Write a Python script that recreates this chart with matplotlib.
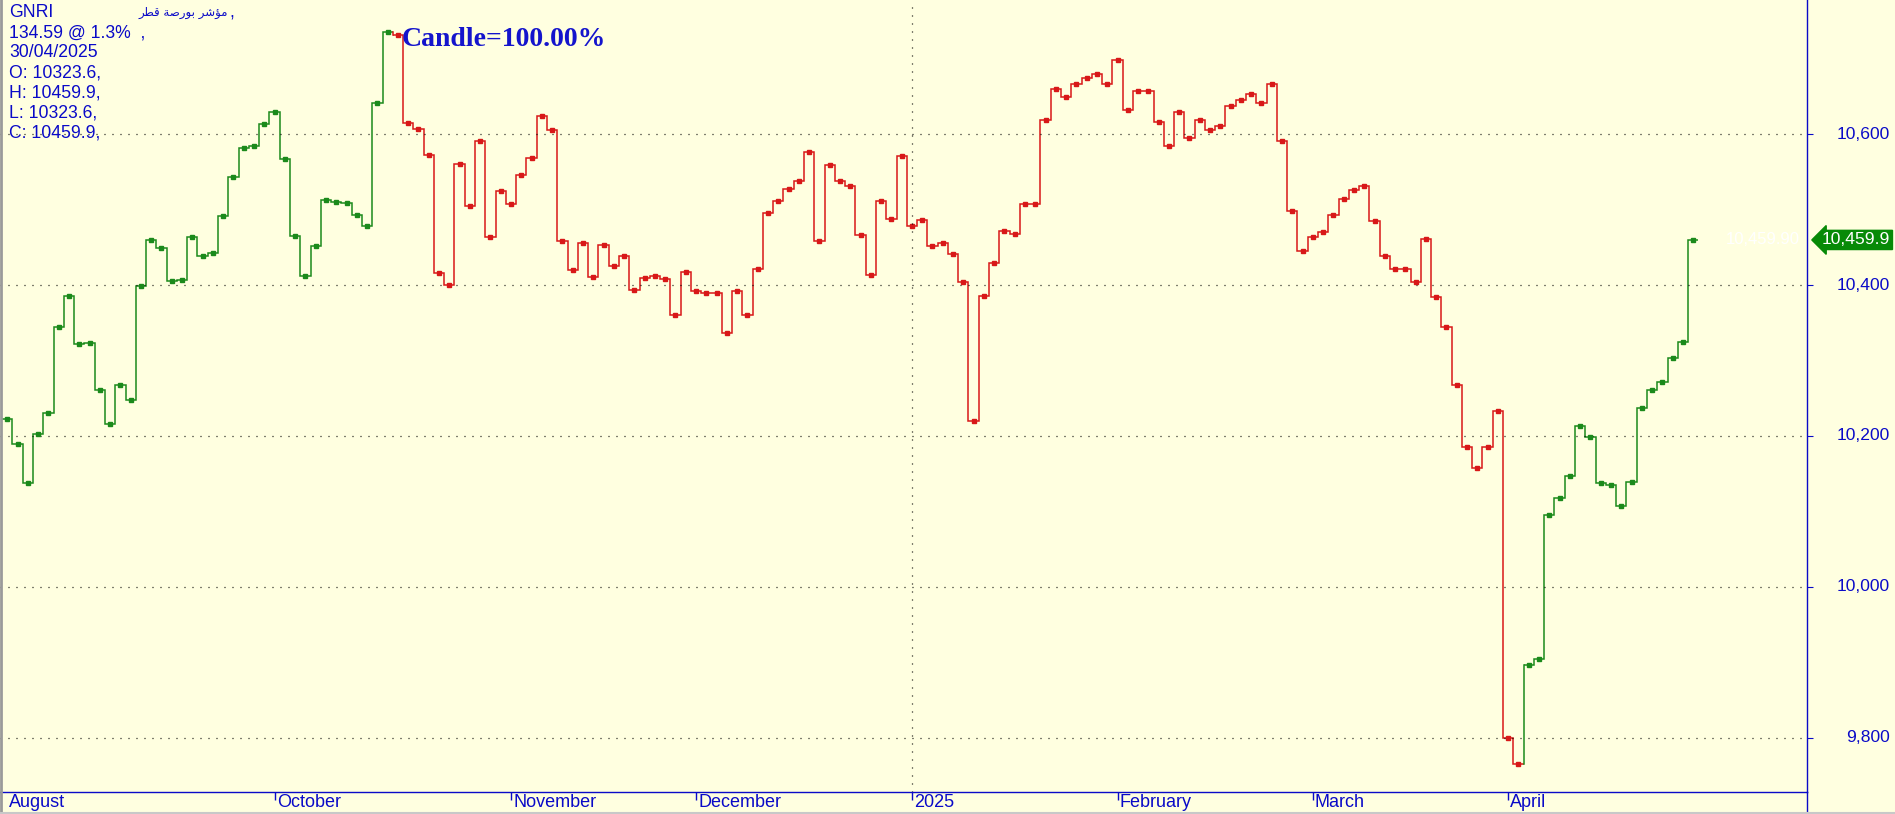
import numpy as np
import matplotlib.pyplot as plt
from matplotlib import transforms
from matplotlib.lines import Line2D

# GNRI (QE index) daily closes, mid August 2024 -> 30/04/2025
closes = [
    10223, 10189, 10138, 10202, 10230, 10344, 10385, 10322, 10323, 10261,
    10216, 10268, 10248, 10399, 10460, 10449, 10405, 10407, 10464, 10438,
    10442, 10491, 10544, 10582, 10585, 10613, 10629, 10567, 10465, 10412,
    10452, 10513, 10510, 10509, 10493, 10478, 10642, 10735, 10732, 10615,
    10607, 10573, 10416, 10400, 10560, 10505, 10591, 10464, 10525, 10507,
    10546, 10569, 10624, 10606, 10459, 10420, 10456, 10411, 10453, 10425,
    10438, 10394, 10409, 10412, 10408, 10361, 10417, 10392, 10390, 10389,
    10337, 10392, 10361, 10421, 10496, 10511, 10528, 10538, 10577, 10458,
    10559, 10538, 10531, 10466, 10413, 10511, 10487, 10571, 10478, 10486,
    10452, 10456, 10441, 10404, 10220, 10385, 10429, 10472, 10468, 10507,
    10507, 10619, 10660, 10650, 10667, 10674, 10680, 10667, 10699, 10632,
    10658, 10657, 10616, 10584, 10629, 10595, 10619, 10606, 10611, 10638,
    10646, 10654, 10641, 10666, 10591, 10498, 10445, 10464, 10471, 10493,
    10514, 10526, 10531, 10485, 10438, 10422, 10421, 10404, 10461, 10384,
    10344, 10268, 10185, 10158, 10185, 10233, 9800, 9765, 9896, 9904,
    10095, 10118, 10147, 10213, 10199, 10137, 10135, 10107, 10139, 10237,
    10261, 10271, 10304, 10324, 10459.9,
]

# colour runs of the line (first index, last index, trend)
runs = [(0, 37, "up"), (38, 147, "down"), (148, 164, "up")]

month_labels = ["August", "October", "November", "December", "2025",
                "February", "March", "April"]
month_idx = [0, 26, 49, 67, 88, 108, 127, 146]
year_idx = 88

ytick_vals = [9800, 10000, 10200, 10400, 10600]

info_lines = ["GNRI", "134.59 @ 1.3%  ,", "30/04/2025", "O: 10323.6,",
              "H: 10459.9,", "L: 10323.6,", "C: 10459.9,"]
name_ar = "مؤشر بورصة قطر"
last_price = closes[-1]

BG = "#FFFFE0"
BLUE = "#0A0AC8"
COLORS = {"up": "#1B8A1B", "down": "#D81818"}

# no arabic shaping / bidi in matplotlib: pick the presentation forms by hand
# and lay them out right to left
AR_FORMS = {
    # letter: (isolated, final, initial, medial)
    "م": ("\ufee1", "\ufee2", "\ufee3", "\ufee4"),
    "ؤ": ("\ufe85", "\ufe86", None, None),
    "ش": ("\ufeb5", "\ufeb6", "\ufeb7", "\ufeb8"),
    "ر": ("\ufead", "\ufeae", None, None),
    "ب": ("\ufe8f", "\ufe90", "\ufe91", "\ufe92"),
    "و": ("\ufeed", "\ufeee", None, None),
    "ص": ("\ufeb9", "\ufeba", "\ufebb", "\ufebc"),
    "ة": ("\ufe93", "\ufe94", None, None),
    "ق": ("\ufed5", "\ufed6", "\ufed7", "\ufed8"),
    "ط": ("\ufec1", "\ufec2", "\ufec3", "\ufec4"),
}


def shape_ar(text):
    out = []
    for i, ch in enumerate(text):
        if ch not in AR_FORMS:
            out.append(ch)
            continue
        prev = text[i - 1] if i > 0 else " "
        nxt = text[i + 1] if i + 1 < len(text) else " "
        joins_prev = prev in AR_FORMS and AR_FORMS[prev][2] is not None
        joins_next = AR_FORMS[ch][2] is not None and nxt in AR_FORMS
        iso, fin, ini, med = AR_FORMS[ch]
        if joins_prev and joins_next:
            out.append(med)
        elif joins_prev:
            out.append(fin)
        elif joins_next:
            out.append(ini)
        else:
            out.append(iso)
    return "".join(reversed(out))


plt.rcParams["font.family"] = ["Liberation Sans", "DejaVu Sans"]

W, H = 1895, 814
fig = plt.figure(figsize=(W / 100, H / 100), dpi=100, facecolor=BG)
ax = fig.add_axes([0, 22 / H, 1807 / W, 792 / H], facecolor=BG)

x = np.arange(len(closes))
y = np.array(closes, dtype=float)

# each session is a flat step centred on its point
for a, b, trend in runs:
    c = COLORS[trend]
    ax.stairs(y[a:b + 1], np.arange(a, b + 2) - 0.5, baseline=None,
              color=c, lw=1.1)
    if a > 0:
        ax.plot([a - 0.5, a - 0.5], [y[a - 1], y[a]], color=c, lw=1.1)
    ax.plot(x[a:b + 1], y[a:b + 1], "s", ms=2.6, color=c, mec=c)

ax.set_xlim(-0.71, 175.07)
ax.set_ylim(9728, 10778)

for s in ["top", "left"]:
    ax.spines[s].set_visible(False)
for s in ["right", "bottom"]:
    ax.spines[s].set_color(BLUE)
    ax.spines[s].set_linewidth(1.0)

ax.set_yticks(ytick_vals)
ax.tick_params(axis="y", left=False, right=True, labelleft=False,
               labelright=False, direction="out", length=4, color=BLUE)
ax.grid(axis="y", color="black", linestyle=(0, (0.8, 5.6)), linewidth=0.9)
ax.axvline(year_idx, color="black", linestyle=(0, (0.8, 5.6)), linewidth=0.9)

ax.set_xticks(month_idx[1:])
ax.set_xticklabels([])
ax.tick_params(axis="x", direction="out", length=6, color=BLUE, width=1.0)
xlab = transforms.blended_transform_factory(ax.transData, ax.transAxes)
for lab, i in zip(month_labels, month_idx):
    ax.text(i + 0.2, -0.003, lab, transform=xlab, ha="left", va="top",
            fontsize=13, color=BLUE, clip_on=False)

# y tick labels right of the spine
ylab = transforms.blended_transform_factory(fig.transFigure, ax.transData)
for v in ytick_vals:
    fig.text(1890 / W, v, f"{v:,}", transform=ylab, ha="right", va="center",
             fontsize=12.6, color=BLUE)

# last price flag
fig.text(1822 / W, last_price, f"{last_price:,.1f}", transform=ylab,
         ha="left", va="center", fontsize=12.6, color="white",
         bbox=dict(boxstyle="larrow,pad=0.12", fc="#078A07", ec="#078A07"))
fig.text(1800 / W, last_price, f"{last_price:,.2f}", transform=ylab,
         ha="right", va="center", fontsize=12, color="white")

# spine runs down through the month band
fig.add_artist(Line2D([1807 / W] * 2, [2 / H, 22 / H], color=BLUE, lw=1.0))
fig.add_artist(Line2D([1 / W] * 2, [0, 1], color="#9A9A9A", lw=2.0))
fig.add_artist(Line2D([0, 1], [1.5 / H] * 2, color="#C8C8C8", lw=1.5))

# header block
for k, line in enumerate(info_lines):
    fig.text(9 / W, 1 - (12.7 + 20 * k) / H, line, ha="left", va="center",
             fontsize=12.7, color=BLUE)
fig.text(138 / W, 1 - 12.7 / H, shape_ar(name_ar), ha="left", va="center",
         fontsize=8.5, color=BLUE, family="DejaVu Sans")
fig.text(229 / W, 1 - 12.7 / H, ",", ha="left", va="center",
         fontsize=12.7, color=BLUE)

ax.text(402 / 1807, 1 - 39 / 792, "Candle=100.00%", transform=ax.transAxes,
        ha="left", va="center", fontsize=20, fontweight="bold",
        family="Liberation Serif", color="#1414CC")

fig.savefig("out.png", dpi=100, facecolor=BG)
